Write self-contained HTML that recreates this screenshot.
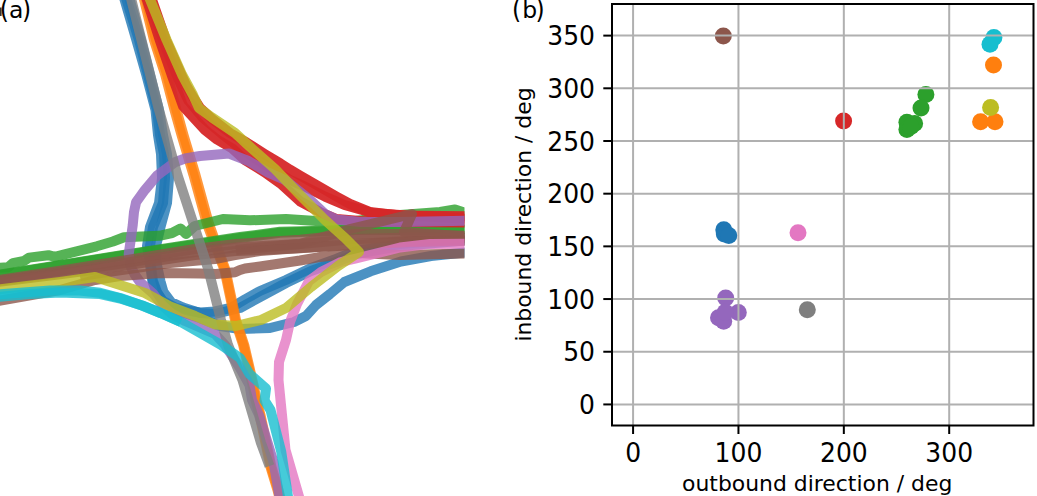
<!DOCTYPE html>
<html><head><meta charset="utf-8"><style>
html,body{margin:0;padding:0;background:#fff;}
svg{display:block;}
.tk{font-family:"DejaVu Sans","Liberation Sans",sans-serif;font-size:25px;fill:#000;}
.lb{font-family:"DejaVu Sans","Liberation Sans",sans-serif;font-size:22px;fill:#000;}
.pl{font-family:"DejaVu Sans","Liberation Sans",sans-serif;font-size:23.5px;fill:#000;}
</style></head><body>
<svg width="1037" height="496" viewBox="0 0 1037 496">
<defs><clipPath id="cl"><rect x="0" y="0" width="464.5" height="496"/></clipPath></defs>
<g clip-path="url(#cl)" fill="none" stroke-linejoin="round" stroke-linecap="butt">
<polyline points="124.1,-2 136.4,40 146.3,75 155.5,110 158,135 161,154 162,178 159,203 150,227 147,246 150,265 152.3,281 156.4,292 163,301 175,307.5 190,311 200,312.5 215,311.5 230.5,308 245.6,299 260,291 286,280 311,268 336,259 356,251 400,244 470,238" stroke="#1f77b4" stroke-width="10" stroke-opacity="0.8"/>
<polyline points="129.2,-2 141,40 150,75 159,110 163,135 167,154 169,178 167,203 160.5,227 156,246 157,265 160.4,281 163.5,292 171,302 183,307.5 200,313 215,314 240,308 260,297 286,283 311,271 336,262 356,254 400,246 470,240" stroke="#1f77b4" stroke-width="10" stroke-opacity="0.8"/>
<polyline points="126,-2 139,40 148,75 157,110 160,135 164,154 165,178 163,203 153,227 150,246 151,265 153,281 157,292 163,302 178,311 200,318 220,326 240,329 270,328 294,322 306,316 316,305 330,294 344.4,282 370.6,271.3 400.9,261.5 431,256 470,252" stroke="#1f77b4" stroke-width="10" stroke-opacity="0.8"/>
<polyline points="143.7,-2 154,40 165.3,75 170.5,95 174.5,110 181.5,135 193.5,175 207,224 224.5,270 235,320 243.2,345 253,387 255.5,400 259.5,415 270.5,467 277.5,490 280,500" stroke="#ff7f0e" stroke-width="10" stroke-opacity="0.8"/>
<polyline points="145.7,-2 156,40 167.3,75 172.5,95 176.5,110 183.5,135 195.5,175 209,224 225.5,270 236,320 244.2,345 254,387 256.5,400 260.5,415 271.5,467 278.5,490 281,500" stroke="#ff7f0e" stroke-width="10" stroke-opacity="0.8"/>
<polyline points="-2,268 8,267.3 12.9,263.2 24.2,260.8 29,257.6 48.4,255.2 54.8,256.8 64.5,254.4 96.8,246.3 112.9,241.5 124,237.3 159.4,235.8 172,233 180.6,228.5 186,234 194.7,226 222.9,219 250,220.3 286,219 316,221 356,221 400,215 440,212 455,209.5 464,212.5 470,213" stroke="#2ca02c" stroke-width="10" stroke-opacity="0.8"/>
<polyline points="-2,275 120,255.5 240,237 280,231.8 356,230 400,230 470,229.5" stroke="#2ca02c" stroke-width="10" stroke-opacity="0.8"/>
<polyline points="-2,275.5 120,256 240,238 280,232.8 356,230 400,230 470,229.5" stroke="#2ca02c" stroke-width="10" stroke-opacity="0.8"/>
<polyline points="151.4,-2 165.9,40 181.4,75 186,85 193,97 200,108 212,119 230,133 246.8,142.7 264.5,153.9 280.6,163.6 290,169.7 300,175.5 320,187 336.4,196.5 350,204 369.7,212 400,215.5 470,216.25" stroke="#d62728" stroke-width="10" stroke-opacity="0.95"/>
<polyline points="148.8,-2 162.8,40 176.5,75 181,85 188,100 203,118 222,134 240,148 255,158.5 272.5,169.5 290,180 305,186.6 325,196.6 344.5,205 373.5,213.3 400,215 470,219" stroke="#d62728" stroke-width="10" stroke-opacity="0.95"/>
<polyline points="146.3,-2 159.7,40 171.7,75 176.5,88 183,106 205,130 217,139.5 232.3,148.5 245.2,160.2 264.5,172.2 280.6,183.6 300.3,201.5 320,212 336.5,219 360,221 400,222 470,222.5" stroke="#d62728" stroke-width="10" stroke-opacity="0.95"/>
<polyline points="470,220.6 400,222 360.6,222 336.5,219.5 325,214 310,200 285,180 267.7,172.4 248.4,161 229,153.5 200,156 185,158.5 174.9,162.2 157.1,175.5 144.9,189.9 136.1,202.1 134,212 132.7,225.4 128.7,254.2 130,265 135,275 140,282 153,293.5 162.5,305.5 172,314 185,321 200,327.5 215,334 225,345 240,368 249.5,385 252,400 259,415 273.5,462 280,500" stroke="#9467bd" stroke-width="10" stroke-opacity="0.8"/>
<polyline points="-2,280 60,270.7173913043478 115,262.0 195,249.0 236,244.0 300,239.7 356,234.0 410,234.0 470,236" stroke="#8c564b" stroke-width="10" stroke-opacity="0.8"/>
<polyline points="-2,281 60,272.5 115,264.5 195,252 236,247.5 300,244 356,239 410,237.5 470,238" stroke="#8c564b" stroke-width="10" stroke-opacity="0.8"/>
<polyline points="-2,282 60,274.2826086956522 115,267.0 195,255.0 236,251.0 300,248.3 356,244.0 410,241.0 470,240" stroke="#8c564b" stroke-width="10" stroke-opacity="0.8"/>
<polyline points="236,250 300,244 350,229 412,214 404,232 470,237" stroke="#8c564b" stroke-width="10" stroke-opacity="0.8"/>
<polyline points="80,276 115,271 170,263 215,259 235,255.2 260,251 300,248 356,245 410,242 470,241" stroke="#8c564b" stroke-width="10" stroke-opacity="0.8"/>
<polyline points="-2,301 60,290 95,280 120,276 160,273 200,273.5 216,274 235,272.3 240,270 245,268.5 260,266.5 275,264.3 300,260.5 318,257.3 356,253 400,255 470,253.5" stroke="#8c564b" stroke-width="10" stroke-opacity="0.8"/>
<polyline points="470,243.7 430,243.9 400,247.5 356,258.5 341,262 321,272 309,281 297,304 290,322 286,340 279,362 278.5,380 285.5,450 300,500" stroke="#e377c2" stroke-width="10" stroke-opacity="0.8"/>
<polyline points="130.9,-2 159,110 177.5,175 193.5,224 208.5,270 221,320 228,345 242.5,380 261,443 269.5,466" stroke="#7f7f7f" stroke-width="10" stroke-opacity="0.8"/>
<polyline points="149.4,-2 166.6,40 182.2,75 193,95 199,108 212,117.5 235,133 248,145 275,169 300,195 325,220 345,238 359,252 338,266 311,287 286,308 261,320 236,326 215,324.5 195,316 170,306.5 145,293 120,285 95,277 60,282 -2,289.5" stroke="#bcbd22" stroke-width="10" stroke-opacity="0.8"/>
<polyline points="-2,297 30,294 60,292.5 100.2,294 120.3,298.5 142,305.5 160.6,313 180.8,322" stroke="#17becf" stroke-width="10" stroke-opacity="0.8"/>
<polyline points="-2,294.5 50,290.6 80,290.5 100.2,292.8 120.3,298 142,305.4 160.6,313 180.8,322 201,333.5 221,344.8 240,358 249.5,374 262,385 266,388.5 264.5,400.3 270.5,410 281.2,451.6 288.5,500" stroke="#17becf" stroke-width="10" stroke-opacity="0.8"/>
</g>
<rect x="0" y="7.5" width="1.6" height="8.5" fill="#000" fill-opacity="0.8"/>
<text transform="translate(-0.2,18.2) scale(1,1.1)" class="pl">(</text><text x="9" y="18.2" class="pl">a</text><text transform="translate(21.9,18.2) scale(1,1.1)" class="pl">)</text>
<circle cx="723.8" cy="229.8" r="8.5" fill="#1f77b4"/>
<circle cx="724.3" cy="234.0" r="8.5" fill="#1f77b4"/>
<circle cx="728.8" cy="235.4" r="8.5" fill="#1f77b4"/>
<circle cx="993.5" cy="65.0" r="8.5" fill="#ff7f0e"/>
<circle cx="980.6" cy="121.8" r="8.5" fill="#ff7f0e"/>
<circle cx="995.0" cy="121.8" r="8.5" fill="#ff7f0e"/>
<circle cx="925.9" cy="94.5" r="8.5" fill="#2ca02c"/>
<circle cx="921.0" cy="108.1" r="8.5" fill="#2ca02c"/>
<circle cx="906.9" cy="122.2" r="8.5" fill="#2ca02c"/>
<circle cx="906.9" cy="129.4" r="8.5" fill="#2ca02c"/>
<circle cx="914.6" cy="123.4" r="8.5" fill="#2ca02c"/>
<circle cx="911.0" cy="126.6" r="8.5" fill="#2ca02c"/>
<circle cx="843.6" cy="121.0" r="8.5" fill="#d62728"/>
<circle cx="725.7" cy="298.1" r="8.5" fill="#9467bd"/>
<circle cx="738.3" cy="312.4" r="8.5" fill="#9467bd"/>
<circle cx="718.5" cy="317.8" r="8.5" fill="#9467bd"/>
<circle cx="723.7" cy="321.3" r="8.5" fill="#9467bd"/>
<circle cx="725.2" cy="312.2" r="8.5" fill="#9467bd"/>
<circle cx="723.3" cy="35.9" r="8.5" fill="#8c564b"/>
<circle cx="798.0" cy="232.8" r="8.5" fill="#e377c2"/>
<circle cx="807.3" cy="309.7" r="8.5" fill="#7f7f7f"/>
<circle cx="990.6" cy="107.6" r="8.5" fill="#bcbd22"/>
<circle cx="993.9" cy="37.6" r="8.5" fill="#17becf"/>
<circle cx="990.0" cy="44.2" r="8.5" fill="#17becf"/>
<line x1="633.08" y1="4" x2="633.08" y2="425.5" stroke="#b0b0b0" stroke-width="2"/>
<line x1="738.45" y1="4" x2="738.45" y2="425.5" stroke="#b0b0b0" stroke-width="2"/>
<line x1="843.83" y1="4" x2="843.83" y2="425.5" stroke="#b0b0b0" stroke-width="2"/>
<line x1="949.20" y1="4" x2="949.20" y2="425.5" stroke="#b0b0b0" stroke-width="2"/>
<line x1="612" y1="404.43" x2="1033.5" y2="404.43" stroke="#b0b0b0" stroke-width="2"/>
<line x1="612" y1="351.74" x2="1033.5" y2="351.74" stroke="#b0b0b0" stroke-width="2"/>
<line x1="612" y1="299.05" x2="1033.5" y2="299.05" stroke="#b0b0b0" stroke-width="2"/>
<line x1="612" y1="246.36" x2="1033.5" y2="246.36" stroke="#b0b0b0" stroke-width="2"/>
<line x1="612" y1="193.68" x2="1033.5" y2="193.68" stroke="#b0b0b0" stroke-width="2"/>
<line x1="612" y1="140.99" x2="1033.5" y2="140.99" stroke="#b0b0b0" stroke-width="2"/>
<line x1="612" y1="88.30" x2="1033.5" y2="88.30" stroke="#b0b0b0" stroke-width="2"/>
<line x1="612" y1="35.61" x2="1033.5" y2="35.61" stroke="#b0b0b0" stroke-width="2"/>
<rect x="612" y="4" width="421.5" height="421.5" fill="none" stroke="#000" stroke-width="2" stroke-linejoin="miter"/>
<line x1="603.3" y1="404.43" x2="612" y2="404.43" stroke="#000" stroke-width="2"/>
<text transform="translate(595,414.12) scale(1,1.08)" text-anchor="end" class="tk">0</text>
<line x1="603.3" y1="351.74" x2="612" y2="351.74" stroke="#000" stroke-width="2"/>
<text transform="translate(595,361.44) scale(1,1.08)" text-anchor="end" class="tk">50</text>
<line x1="603.3" y1="299.05" x2="612" y2="299.05" stroke="#000" stroke-width="2"/>
<text transform="translate(595,308.75) scale(1,1.08)" text-anchor="end" class="tk">100</text>
<line x1="603.3" y1="246.36" x2="612" y2="246.36" stroke="#000" stroke-width="2"/>
<text transform="translate(595,256.06) scale(1,1.08)" text-anchor="end" class="tk">150</text>
<line x1="603.3" y1="193.68" x2="612" y2="193.68" stroke="#000" stroke-width="2"/>
<text transform="translate(595,203.38) scale(1,1.08)" text-anchor="end" class="tk">200</text>
<line x1="603.3" y1="140.99" x2="612" y2="140.99" stroke="#000" stroke-width="2"/>
<text transform="translate(595,150.69) scale(1,1.08)" text-anchor="end" class="tk">250</text>
<line x1="603.3" y1="88.30" x2="612" y2="88.30" stroke="#000" stroke-width="2"/>
<text transform="translate(595,98.00) scale(1,1.08)" text-anchor="end" class="tk">300</text>
<line x1="603.3" y1="35.61" x2="612" y2="35.61" stroke="#000" stroke-width="2"/>
<text transform="translate(595,45.31) scale(1,1.08)" text-anchor="end" class="tk">350</text>
<line x1="633.08" y1="425.5" x2="633.08" y2="434" stroke="#000" stroke-width="2"/>
<text transform="translate(633.08,461.6) scale(1,1.08)" text-anchor="middle" class="tk">0</text>
<line x1="738.45" y1="425.5" x2="738.45" y2="434" stroke="#000" stroke-width="2"/>
<text transform="translate(738.45,461.6) scale(1,1.08)" text-anchor="middle" class="tk">100</text>
<line x1="843.83" y1="425.5" x2="843.83" y2="434" stroke="#000" stroke-width="2"/>
<text transform="translate(843.83,461.6) scale(1,1.08)" text-anchor="middle" class="tk">200</text>
<line x1="949.20" y1="425.5" x2="949.20" y2="434" stroke="#000" stroke-width="2"/>
<text transform="translate(949.20,461.6) scale(1,1.08)" text-anchor="middle" class="tk">300</text>
<text x="682.1" y="490.5" class="lb" style="font-size:21.9px">outbound direction / deg</text>
<text transform="translate(530.7,341.6) rotate(-90)" x="0" y="0" class="lb" style="font-size:21.89px">inbound direction / deg</text>
<text transform="translate(511.9,18.2) scale(1,1.1)" class="pl">(</text><text x="522.2" y="18.2" class="pl">b</text><text transform="translate(535.6,18.2) scale(1,1.1)" class="pl">)</text>
</svg></body></html>
